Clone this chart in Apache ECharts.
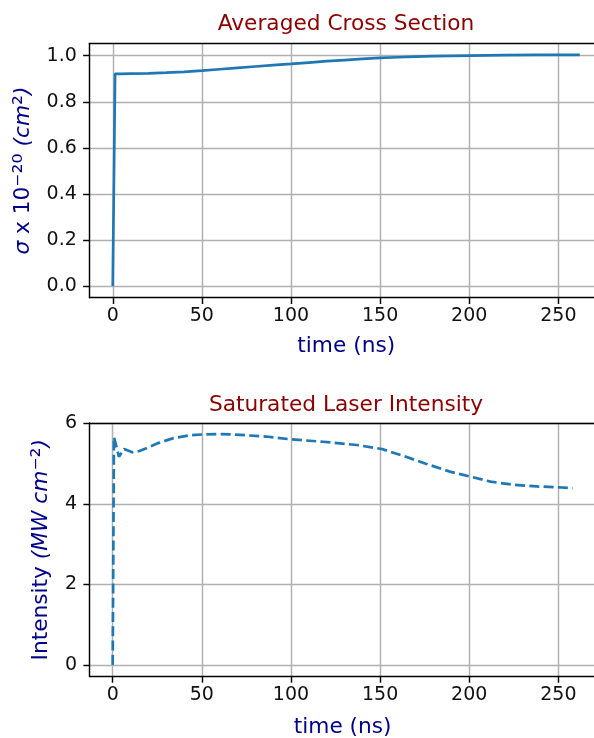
<!DOCTYPE html>
<html>
<head>
<meta charset="utf-8">
<script src="https://cdn.jsdelivr.net/npm/echarts@6/dist/echarts.min.js"></script>
<style>
html,body{margin:0;padding:0;background:#fff;overflow:hidden;}
#chart{width:594px;height:738px;}
</style>
</head>
<body>
<div id="chart"></div>
<script>
// ---- data ----
var timeSigma = [0, 1.3, 5, 10, 20, 30, 40, 50, 60, 70, 80, 90, 100, 110, 120, 130, 140, 150, 160, 170, 180, 200, 220, 240, 262];
var sigma = [0, 0.921, 0.921, 0.922, 0.923, 0.926, 0.930, 0.935, 0.941, 0.947, 0.953, 0.959, 0.964, 0.970, 0.976, 0.981, 0.986, 0.990, 0.993, 0.996, 0.998, 1.000, 1.002, 1.003, 1.003];

var timeInt = [0, 0.7, 3.5, 6.4, 11, 15, 20, 25, 34, 43, 50, 60, 68, 86, 100, 118, 137, 151, 163, 176, 189, 200, 212, 225, 238, 250, 258];
var intensity = [0, 5.66, 5.17, 5.36, 5.28, 5.31, 5.40, 5.50, 5.63, 5.70, 5.72, 5.73, 5.72, 5.67, 5.60, 5.54, 5.46, 5.36, 5.19, 4.99, 4.80, 4.68, 4.55, 4.47, 4.43, 4.41, 4.39];

var xTicks = [0, 50, 100, 150, 200, 250];
var yTicksSigma = [0, 0.2, 0.4, 0.6, 0.8, 1.0];
var yTicksInt = [0, 2, 4, 6];

var titles = ['Averaged Cross Section', 'Saturated Laser Intensity'];
var xName = 'time (ns)';

function pairs(xs, ys) { return xs.map(function (x, i) { return [x, ys[i]]; }); }

var FONT = 'DejaVu Sans';
var TICK_FS = 19;
var LABEL_FS = 21.7;
var spineW = 1.45;

function xAxisCfg(gridIndex, min, max, gap) {
  return {
    type: 'value', gridIndex: gridIndex, min: min, max: max, position: 'bottom',
    axisLine: { show: true, onZero: false, lineStyle: { color: '#000', width: spineW } },
    axisTick: { show: true, customValues: xTicks, length: 6.3, lineStyle: { color: '#000', width: spineW } },
    axisLabel: { customValues: xTicks, margin: 9, fontSize: TICK_FS, fontFamily: FONT, color: '#111' },
    splitLine: { show: true, lineStyle: { color: '#b0b0b0', width: 1.45 } },
    name: xName, nameLocation: 'middle', nameGap: gap,
    nameTextStyle: { fontSize: LABEL_FS, fontFamily: FONT, color: '#00008b' }
  };
}
function topSpine(gridIndex, min, max) {
  return {
    type: 'value', gridIndex: gridIndex, min: min, max: max, position: 'top',
    axisLine: { show: true, onZero: false, lineStyle: { color: '#000', width: spineW } },
    axisTick: { show: false }, axisLabel: { show: false }, splitLine: { show: false }
  };
}
function yAxisCfg(gridIndex, min, max, ticks, fmt, name, gap) {
  return {
    type: 'value', gridIndex: gridIndex, min: min, max: max, position: 'left',
    axisLine: { show: true, onZero: false, lineStyle: { color: '#000', width: spineW } },
    axisTick: { show: true, customValues: ticks, length: 6.3, lineStyle: { color: '#000', width: spineW } },
    axisLabel: { customValues: ticks, margin: 12.6, fontSize: TICK_FS, fontFamily: FONT, color: '#111', formatter: fmt },
    splitLine: { show: true, lineStyle: { color: '#b0b0b0', width: 1.45 } },
    name: name, nameLocation: 'middle', nameGap: gap, nameRotate: 90,
    nameTextStyle: {
      fontSize: LABEL_FS, fontFamily: FONT, color: '#00008b',
      rich: {
        i: { fontStyle: 'italic', fontSize: LABEL_FS, fontFamily: FONT, color: '#00008b' },
        s: { fontSize: 25, fontFamily: FONT, color: '#00008b' }
      }
    }
  };
}

var chart = echarts.init(document.getElementById('chart'), null, { renderer: 'canvas' });
chart.setOption({
  animation: false,
  backgroundColor: '#fff',
  title: [
    { text: titles[0], left: 346, top: 13, textAlign: 'center', padding: 0,
      textStyle: { fontSize: LABEL_FS, fontWeight: 'normal', fontFamily: FONT, color: '#8b0000' } },
    { text: titles[1], left: 346, top: 394, textAlign: 'center', padding: 0,
      textStyle: { fontSize: LABEL_FS, fontWeight: 'normal', fontFamily: FONT, color: '#8b0000' } }
  ],
  grid: [
    { left: 89.4, top: 43.4, width: 513.7, height: 254.3, show: false, containLabel: false, outerBoundsMode: 'none' },
    { left: 89.7, top: 423, width: 505.9, height: 253.4, show: false, containLabel: false, outerBoundsMode: 'none' }
  ],
  xAxis: [
    xAxisCfg(0, -13.1, 275.1, 38),
    xAxisCfg(1, -12.9, 270.9, 40),
    topSpine(0, -13.1, 275.1),
    topSpine(1, -12.9, 270.9)
  ],
  yAxis: [
    yAxisCfg(0, -0.0502, 1.0532, yTicksSigma, function (v) { return v.toFixed(1); },
      '{i|σ} x 10{s|⁻²⁰} {i|(cm}{s|²}{i|)}', 53),
    yAxisCfg(1, -0.286, 6.006, yTicksInt, function (v) { return String(v); },
      'Intensity {i|(MW cm}{s|⁻²}{i|)}', 34)
  ],
  series: [
    { type: 'line', xAxisIndex: 0, yAxisIndex: 0, data: pairs(timeSigma, sigma),
      showSymbol: false, symbol: 'none', lineStyle: { color: '#1f77b4', width: 2.7 }, z: 3 },
    { type: 'line', xAxisIndex: 1, yAxisIndex: 1, data: pairs(timeInt, intensity),
      showSymbol: false, symbol: 'none', lineStyle: { color: '#1f77b4', width: 2.7, type: [10, 4.3] }, z: 3 }
  ]
});
</script>
</body>
</html>
